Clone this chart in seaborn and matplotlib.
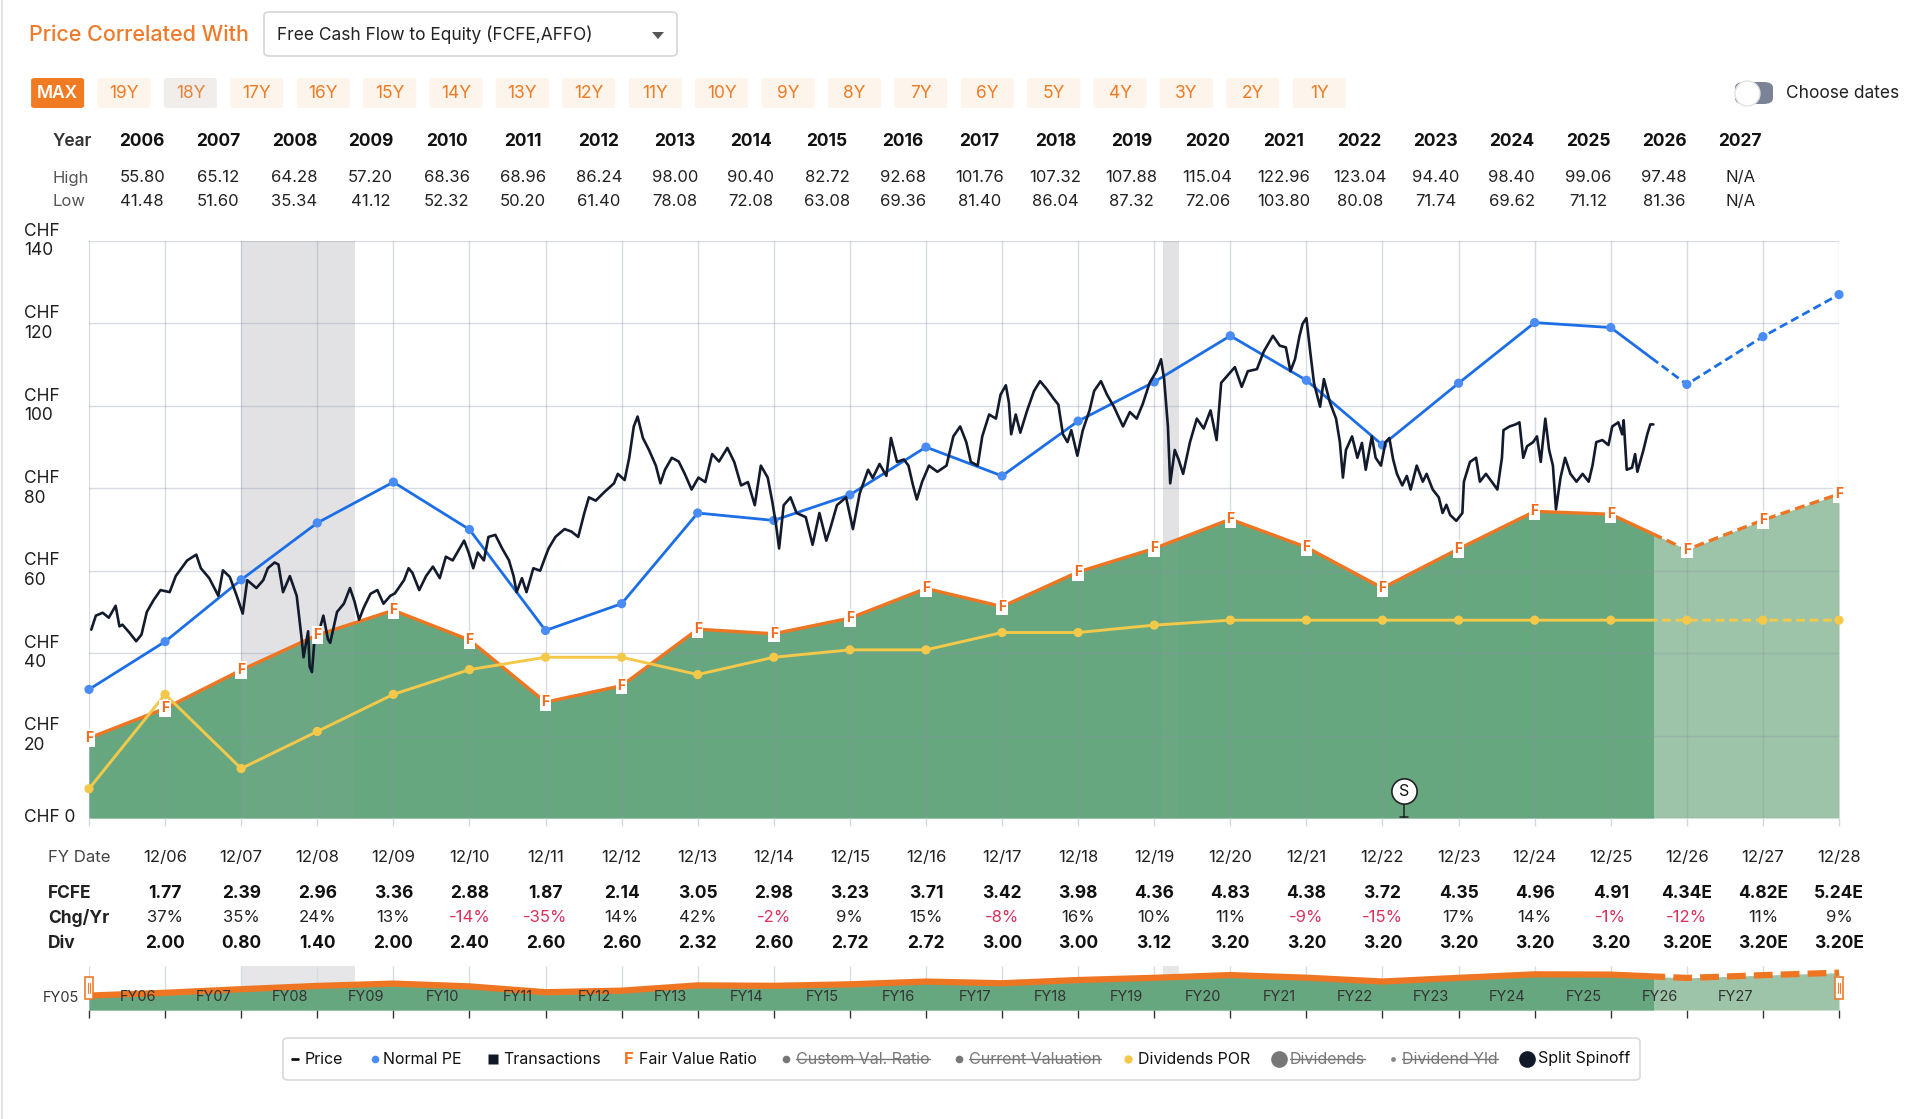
import numpy as np
import pandas as pd
import matplotlib
matplotlib.use("Agg")
import matplotlib.pyplot as plt
import seaborn as sns
import matplotlib.transforms as mtransforms
from matplotlib.patches import Rectangle, FancyBboxPatch, Polygon
from matplotlib.lines import Line2D

# ---------------- data ----------------
fy_end = list(range(2006, 2030))          # year-end positions of FY05 .. FY28
fair_value = [19.4, 26.6, 35.9, 44.4, 50.4, 43.2, 28.1, 32.1, 45.8, 44.7, 48.5, 55.7,
              51.3, 59.7, 65.4, 72.5, 65.7, 55.8, 65.3, 74.4, 73.7, 65.1, 72.3, 78.6]
normal_pe = [31.2, 42.8, 57.8, 71.6, 81.5, 70.0, 45.5, 52.0, 74.0, 72.2, 78.4, 90.0,
             83.0, 96.3, 105.8, 117.0, 106.2, 90.5, 105.5, 120.2, 119.0, 105.2, 116.8, 127.0]
div_por = [7.1, 30.0, 12.0, 21.0, 30.0, 36.0, 39.0, 39.0, 34.8, 39.0, 40.8, 40.8,
           45.0, 45.0, 46.8, 48.0, 48.0, 48.0, 48.0, 48.0, 48.0, 48.0, 48.0, 48.0]
now_date = 2026.56

price_t = [0.03, 0.09, 0.18, 0.26, 0.35, 0.40, 0.44, 0.53, 0.62, 0.69,
           0.76, 0.85, 0.94, 1.06, 1.14, 1.29, 1.41, 1.47, 1.58, 1.70,
           1.76, 1.85, 1.94, 2.02, 2.08, 2.20, 2.29, 2.35, 2.44, 2.49,
           2.55, 2.64, 2.73, 2.79, 2.82, 2.88, 2.90, 2.93, 2.96, 3.02,
           3.08, 3.14, 3.17, 3.26, 3.35, 3.43, 3.49, 3.55, 3.61, 3.70,
           3.79, 3.87, 3.96, 4.02, 4.14, 4.20, 4.25, 4.34, 4.43, 4.52,
           4.61, 4.69, 4.78, 4.87, 4.93, 4.99, 5.05, 5.11, 5.19, 5.25,
           5.34, 5.43, 5.52, 5.58, 5.62, 5.69, 5.75, 5.84, 5.93, 5.99,
           6.04, 6.13, 6.25, 6.34, 6.43, 6.51, 6.57, 6.66, 6.78, 6.90,
           6.95, 7.04, 7.10, 7.16, 7.21, 7.28, 7.36, 7.45, 7.51, 7.57,
           7.66, 7.75, 7.83, 7.92, 8.01, 8.10, 8.19, 8.28, 8.39, 8.48,
           8.57, 8.66, 8.75, 8.83, 8.92, 8.98, 9.03, 9.07, 9.13, 9.22,
           9.30, 9.42, 9.51, 9.60, 9.69, 9.74, 9.83, 9.95, 10.04, 10.13,
           10.24, 10.30, 10.39, 10.48, 10.54, 10.62, 10.71, 10.77, 10.83, 10.88,
           10.95, 11.04, 11.15, 11.27, 11.36, 11.45, 11.53, 11.59, 11.68, 11.74,
           11.83, 11.92, 11.98, 12.05, 12.09, 12.12, 12.18, 12.24, 12.33, 12.42,
           12.50, 12.59, 12.68, 12.74, 12.80, 12.86, 12.91, 12.99, 13.06, 13.15,
           13.21, 13.30, 13.38, 13.47, 13.59, 13.68, 13.77, 13.85, 13.94, 14.03,
           14.09, 14.13, 14.18, 14.21, 14.27, 14.32, 14.38, 14.47, 14.56, 14.65,
           14.74, 14.82, 14.88, 14.97, 15.06, 15.15, 15.23, 15.35, 15.44, 15.56,
           15.65, 15.73, 15.79, 15.85, 15.91, 15.95, 16.00, 16.05, 16.10, 16.18,
           16.23, 16.31, 16.39, 16.44, 16.48, 16.52, 16.60, 16.67, 16.73, 16.78,
           16.86, 16.91, 16.98, 17.04, 17.09, 17.14, 17.19, 17.26, 17.32, 17.37,
           17.45, 17.53, 17.58, 17.66, 17.74, 17.79, 17.84, 17.89, 17.97, 18.05,
           18.07, 18.15, 18.23, 18.28, 18.36, 18.44, 18.51, 18.57, 18.59, 18.67,
           18.75, 18.80, 18.85, 18.90, 18.98, 19.03, 19.08, 19.14, 19.19, 19.24,
           19.28, 19.34, 19.40, 19.47, 19.55, 19.63, 19.71, 19.76, 19.81, 19.89,
           19.97, 20.02, 20.10, 20.15, 20.17, 20.21, 20.28, 20.32, 20.35, 20.43,
           20.48, 20.52, 20.56]
price_v = [45.7, 49.1, 49.8, 48.6, 51.5, 46.5, 46.9, 45.0, 42.9, 44.5,
           50.0, 52.9, 55.3, 54.8, 58.7, 62.5, 63.9, 60.6, 58.2, 53.9,
           60.1, 58.5, 54.0, 49.6, 57.7, 55.8, 57.7, 60.6, 62.0, 61.5,
           54.8, 58.7, 53.9, 44.3, 39.0, 45.3, 36.7, 35.4, 42.4, 45.0,
           49.1, 43.4, 42.5, 50.0, 52.0, 55.8, 52.5, 48.1, 51.0, 54.4,
           55.3, 52.0, 53.9, 54.5, 57.7, 60.6, 59.5, 55.3, 58.7, 61.0,
           58.2, 63.4, 62.5, 65.4, 67.3, 64.4, 60.6, 64.4, 62.5, 68.2,
           68.7, 65.4, 62.5, 58.7, 54.8, 58.2, 54.8, 60.6, 60.0, 63.0,
           65.4, 68.2, 70.1, 69.5, 68.2, 74.0, 77.8, 77.0, 79.2, 81.2,
           83.5, 82.0, 87.4, 95.0, 97.4, 92.2, 89.3, 85.5, 81.2, 84.5,
           87.4, 86.5, 83.5, 79.7, 82.6, 81.5, 88.3, 86.5, 89.8, 86.4,
           80.7, 81.5, 75.9, 85.5, 82.6, 76.8, 71.1, 65.4, 75.9, 77.8,
           74.0, 73.0, 66.3, 74.0, 67.3, 70.1, 75.9, 77.8, 70.1, 78.8,
           84.5, 82.5, 85.9, 83.0, 92.2, 86.4, 87.0, 85.5, 80.7, 77.3,
           81.6, 85.5, 84.0, 85.5, 92.6, 95.0, 91.2, 86.4, 85.5, 92.6,
           97.9, 96.9, 102.7, 105.0, 100.8, 93.1, 97.9, 93.5, 98.9, 103.6,
           106.0, 104.0, 101.7, 100.3, 93.1, 91.2, 94.1, 87.9, 94.0, 98.9,
           103.6, 106.0, 102.7, 99.8, 95.0, 98.5, 96.9, 100.5, 105.6, 108.4,
           111.3, 106.5, 95.0, 81.2, 89.3, 87.0, 83.5, 91.2, 96.9, 94.5,
           98.9, 91.7, 105.6, 107.5, 109.4, 104.6, 108.4, 108.9, 113.2, 117.0,
           114.6, 114.2, 108.4, 111.3, 117.0, 119.9, 121.3, 113.2, 105.5, 99.8,
           106.5, 100.8, 96.9, 91.2, 82.6, 89.3, 92.6, 87.4, 91.0, 84.5,
           92.6, 87.4, 85.5, 91.2, 92.2, 87.0, 83.5, 80.7, 83.0, 79.7,
           85.5, 81.6, 83.5, 79.7, 77.8, 74.0, 76.0, 73.5, 72.1, 74.0,
           81.6, 86.4, 87.4, 81.6, 83.5, 81.5, 79.7, 87.4, 94.1, 95.0,
           95.5, 96.0, 87.4, 90.2, 91.2, 92.6, 86.4, 96.9, 89.3, 85.5,
           74.9, 82.6, 87.4, 83.5, 81.6, 83.5, 81.6, 85.5, 91.2, 91.7,
           90.5, 95.0, 96.0, 93.1, 96.5, 84.5, 85.0, 88.3, 84.0, 89.3,
           93.1, 95.5, 95.5]

recessions = [(2008.0, 2009.49), (2020.12, 2020.33)]
split_x = [2023.28]
split_y = [6.5]

year_cols = [str(y) for y in range(2006, 2028)]
year_high = ["55.80", "65.12", "64.28", "57.20", "68.36", "68.96", "86.24", "98.00", "90.40",
             "82.72", "92.68", "101.76", "107.32", "107.88", "115.04", "122.96", "123.04",
             "94.40", "98.40", "99.06", "97.48", "N/A"]
year_low = ["41.48", "51.60", "35.34", "41.12", "52.32", "50.20", "61.40", "78.08", "72.08",
            "63.08", "69.36", "81.40", "86.04", "87.32", "72.06", "103.80", "80.08", "71.74",
            "69.62", "71.12", "81.36", "N/A"]

fy_dates = ["12/%02d" % y for y in range(6, 29)]
fcfe_txt = ["1.77", "2.39", "2.96", "3.36", "2.88", "1.87", "2.14", "3.05", "2.98", "3.23",
            "3.71", "3.42", "3.98", "4.36", "4.83", "4.38", "3.72", "4.35", "4.96", "4.91",
            "4.34E", "4.82E", "5.24E"]
chg_txt = ["37%", "35%", "24%", "13%", "-14%", "-35%", "14%", "42%", "-2%", "9%", "15%",
           "-8%", "16%", "10%", "11%", "-9%", "-15%", "17%", "14%", "-1%", "-12%", "11%", "9%"]
div_txt = ["2.00", "0.80", "1.40", "2.00", "2.40", "2.60", "2.60", "2.32", "2.60", "2.72",
           "2.72", "3.00", "3.00", "3.12", "3.20", "3.20", "3.20", "3.20", "3.20", "3.20",
           "3.20E", "3.20E", "3.20E"]
nav_labels = ["FY%02d" % y for y in range(6, 28)]
btn_labels = ["MAX", "19Y", "18Y", "17Y", "16Y", "15Y", "14Y", "13Y", "12Y", "11Y",
              "10Y", "9Y", "8Y", "7Y", "6Y", "5Y", "4Y", "3Y", "2Y", "1Y"]

# ---------------- style ----------------
sns.set_theme(style="white")
plt.rcParams["font.family"] = ["Inter", "DejaVu Sans"]

W, H = 1920, 1119
fig = plt.figure(figsize=(19.2, 11.19), dpi=100)
fig.patch.set_facecolor("white")


def fx(x):
    return x / W


def fy(y):
    return 1 - y / H


ORANGE = "#EE7623"
BLUE = "#1C6EE6"
BLUE_M = "#4A8CF6"
YELLOW = "#F4C94A"
DARK_G = "#67A780"
LIGHT_G = "#9DC4A8"
PRICE_C = "#121A2C"
TXT = "#1F1F1F"

fy_x = np.array(fy_end, dtype=float)

# ---------------- main chart ----------------
ax = fig.add_axes([fx(89), fy(818), fx(1839) - fx(89), fy(241) - fy(818)])
ax.set_xlim(2006, 2029)
ax.set_ylim(0, 140)
for s in ax.spines.values():
    s.set_visible(False)
ax.set_xticks(range(2006, 2030))
ax.set_yticks(range(0, 141, 20))
ax.set_xticklabels([])
ax.set_yticklabels([])
ax.tick_params(axis="x", length=6, color="#d3d7de", width=1, direction="out", bottom=True)
ax.tick_params(axis="y", length=0)
ax.set_axisbelow(False)
ax.grid(True, color="#8a94a6", alpha=0.33, lw=1)

for a, b in recessions:
    ax.axvspan(a, b, color="#e7e7ea", lw=0, zorder=0.5)
    ax.axvspan(a, b, color="#a9a9ad", alpha=0.07, lw=0, zorder=1.5)

past = Rectangle((1990, -100), now_date - 1990, 400, transform=ax.transData)
future = Rectangle((now_date, -100), 50, 400, transform=ax.transData)

ax.fill_between(fy_x, 0, fair_value, color=LIGHT_G, lw=0, zorder=1)
dark = ax.fill_between(fy_x, 0, fair_value, color=DARK_G, lw=0, zorder=1.1)
dark.set_clip_path(past)


def seg_line(axis, y, color, lw, z, clip_past, clip_future, dash):
    sns.lineplot(x=fy_x, y=y, ax=axis, color=color, lw=lw, zorder=z,
                 estimator=None, legend=False)
    axis.lines[-1].set_clip_path(clip_past)
    sns.lineplot(x=fy_x, y=y, ax=axis, color=color, lw=lw, zorder=z,
                 estimator=None, legend=False, linestyle=(0, dash))
    axis.lines[-1].set_clip_path(clip_future)


seg_line(ax, fair_value, ORANGE, 2.4, 3, past, future, (3, 1.6))
seg_line(ax, div_por, YELLOW, 2.1, 4, past, future, (3, 1.6))
seg_line(ax, normal_pe, BLUE, 2.0, 5, past, future, (3, 1.6))

sns.scatterplot(x=fy_x, y=div_por, ax=ax, color=YELLOW, s=44, edgecolor="none",
                zorder=4.5, legend=False, clip_on=False)
sns.scatterplot(x=fy_x, y=normal_pe, ax=ax, color=BLUE_M, s=44, edgecolor="none",
                zorder=5.5, legend=False, clip_on=False)

sns.lineplot(x=2006 + np.array(price_t), y=price_v, ax=ax, color=PRICE_C, lw=1.9,
             zorder=7, estimator=None, legend=False)

for xv, yv in zip(fy_x, fair_value):
    ax.text(xv, yv, "F", ha="center", va="center", fontsize=10, color="#F26B1D",
            weight="bold", zorder=8, clip_on=False,
            bbox=dict(boxstyle="square,pad=0.12", fc="white", ec="none"))

# split / spinoff marker
for sx, sy in zip(split_x, split_y):
    ax.plot([sx, sx], [0, sy - 3.2], color="#222", lw=1.1, zorder=8)
    ax.plot([sx - 0.05, sx + 0.05], [0.3, 0.3], color="#222", lw=1.1, zorder=8)
sns.scatterplot(x=split_x, y=split_y, ax=ax, s=330, color="white", edgecolor="#222",
                linewidth=1.2, zorder=9, legend=False)
for sx, sy in zip(split_x, split_y):
    ax.text(sx, sy, "S", ha="center", va="center", fontsize=11.5, color="#111", zorder=10)

# y labels
ytr = mtransforms.blended_transform_factory(fig.transFigure, ax.transData)
for v in range(20, 141, 20):
    fig.text(fx(24), v, "CHF\n%d" % v, transform=ytr, ha="left", va="center",
             fontsize=12.5, color=TXT, linespacing=1.2)
fig.text(fx(24), 0, "CHF 0", transform=ytr, ha="left", va="center", fontsize=12.5, color=TXT)

# ---------------- top table ----------------
ttr = mtransforms.blended_transform_factory(ax.transData, fig.transFigure)
fig.text(fx(53), fy(142), "Year", ha="left", va="center", fontsize=12.5,
         weight="semibold", color="#333")
fig.text(fx(53), fy(178), "High", ha="left", va="center", fontsize=12, color="#555")
fig.text(fx(53), fy(202), "Low", ha="left", va="center", fontsize=12, color="#555")
for i, (yc, hi, lo) in enumerate(zip(year_cols, year_high, year_low)):
    xc = 2006.7 + i
    fig.text(xc, fy(142), yc, transform=ttr, ha="center", va="center", fontsize=12.5,
             weight="bold", color="#111")
    fig.text(xc, fy(178), hi, transform=ttr, ha="center", va="center", fontsize=12, color="#222")
    fig.text(xc, fy(202), lo, transform=ttr, ha="center", va="center", fontsize=12, color="#222")

# ---------------- bottom table ----------------
fig.text(fx(48), fy(858), "FY Date", ha="left", va="center", fontsize=12, color="#444")
fig.text(fx(48), fy(894), "FCFE", ha="left", va="center", fontsize=12.5, weight="bold", color="#222")
fig.text(fx(48), fy(918), "Chg/Yr", ha="left", va="center", fontsize=12.5, weight="bold", color="#222")
fig.text(fx(48), fy(943), "Div", ha="left", va="center", fontsize=12.5, weight="bold", color="#222")
for i, (d, f, c, dv) in enumerate(zip(fy_dates, fcfe_txt, chg_txt, div_txt)):
    xc = 2007 + i
    fig.text(xc, fy(858), d, transform=ttr, ha="center", va="center", fontsize=12, color="#222")
    fig.text(xc, fy(894), f, transform=ttr, ha="center", va="center", fontsize=12.5,
             weight="bold", color="#111")
    fig.text(xc, fy(918), c, transform=ttr, ha="center", va="center", fontsize=12,
             color="#DC2F5C" if c.startswith("-") else "#222")
    fig.text(xc, fy(943), dv, transform=ttr, ha="center", va="center", fontsize=12.5,
             weight="bold", color="#111")

# ---------------- navigator ----------------
nav = fig.add_axes([fx(89), fy(1010), fx(1839) - fx(89), fy(966) - fy(1010)])
nav.set_xlim(2006, 2029)
nav.set_ylim(-18, 96)
for s in nav.spines.values():
    s.set_visible(False)
nav.set_yticks([])
nav.set_xticks(range(2006, 2030))
nav.set_xticklabels([])
nav.tick_params(axis="x", length=6, color="#333", width=1, direction="out", bottom=True)
nav.vlines(range(2006, 2030), -18, 96, color="#d8dce2", lw=1, zorder=0.6)
for a, b in recessions:
    nav.axvspan(a, b, color="#e6e6e8", lw=0, zorder=0.5)
npast = Rectangle((1990, -100), now_date - 1990, 400, transform=nav.transData)
nfuture = Rectangle((now_date, -100), 50, 400, transform=nav.transData)
nav.fill_between(fy_x, -18, fair_value, color=LIGHT_G, lw=0, zorder=1)
nd = nav.fill_between(fy_x, -18, fair_value, color=DARK_G, lw=0, zorder=1.1)
nd.set_clip_path(npast)
seg_line(nav, fair_value, ORANGE, 4.5, 3, npast, nfuture, (3, 1.3))
for i, lab in enumerate(nav_labels):
    nav.text(2006.64 + i, 0.3, lab, transform=mtransforms.blended_transform_factory(
        nav.transData, nav.transAxes), ha="center", va="center", fontsize=10.5,
        color="#333", zorder=5)
fig.text(fx(61), fy(998), "FY05", ha="center", va="center", fontsize=10.5, color="#333")
for hx in (85, 1835):
    fig.add_artist(Rectangle((fx(hx), fy(999)), 8 / W, 22 / H, transform=fig.transFigure,
                             fc="white", ec="#EE7B2C", lw=1.2, zorder=10))
    for dx in (3, 5):
        fig.add_artist(Line2D([fx(hx + dx)] * 2, [fy(983), fy(993)], color="#EE7B2C",
                              lw=0.8, zorder=11))

# ---------------- legend box ----------------
fig.add_artist(FancyBboxPatch((fx(283), fy(1080)), (1640 - 283) / W, 42 / H,
                              boxstyle="round,pad=0,rounding_size=0.003",
                              transform=fig.transFigure, fc="white", ec="#d9d9d9", lw=1.2))
LY = fy(1059)
fig.add_artist(Line2D([fx(292), fx(298)], [LY, LY], color="#111", lw=2))
icons = [(375, "o", BLUE_M, 5.5), (493, "s", "#111827", 7.5), (786, "o", "#777", 5.5),
         (959, "o", "#777", 5.5), (1128, "o", YELLOW, 6), (1279, "o", "#777", 12),
         (1393, "o", "#888", 3.5), (1527, "o", "#111827", 12)]
for xi, mk, col, ms in icons:
    fig.add_artist(Line2D([fx(xi)], [LY], marker=mk, color=col, ms=ms, mec="none", lw=0))
fig.text(fx(629), LY, "F", ha="center", va="center", fontsize=12, weight="bold", color=ORANGE)
leg_items = [(305, "Price", False), (383, "Normal PE", False), (503, "Transactions", False),
             (639, "Fair Value Ratio", False), (796, "Custom Val. Ratio", True),
             (969, "Current Valuation", True), (1138, "Dividends POR", False),
             (1290, "Dividends", True), (1402, "Dividend Yld", True), (1538, "Split Spinoff", False)]
leg_texts = []
for xi, lab, strike in leg_items:
    t = fig.text(fx(xi), LY, lab, ha="left", va="center", fontsize=11.5,
                 color="#777" if strike else "#111")
    leg_texts.append((t, strike))

# ---------------- header UI ----------------
fig.text(fx(29), fy(35), "Price Correlated With", ha="left", va="center", fontsize=15.5,
         color="#EE7B2C", weight="medium")
fig.add_artist(FancyBboxPatch((fx(264), fy(56)), 413 / W, 44 / H,
                              boxstyle="round,pad=0,rounding_size=0.003",
                              transform=fig.transFigure, fc="white", ec="#d6d6d6", lw=1.2))
fig.text(fx(277), fy(35), "Free Cash Flow to Equity (FCFE,AFFO)", ha="left", va="center",
         fontsize=12.5, color="#222")
fig.add_artist(Polygon([[fx(652), fy(32)], [fx(664), fy(32)], [fx(658), fy(39)]],
                       closed=True, transform=fig.transFigure, fc="#555", ec="none"))
for i, lab in enumerate(btn_labels):
    cx = 57.6 + 66.4 * i
    if lab == "MAX":
        fc, tc, wt = "#F07B22", "white", "semibold"
    elif lab == "18Y":
        fc, tc, wt = "#F1EDEA", "#E8833A", "normal"
    else:
        fc, tc, wt = "#FDF4EC", "#F07B22", "normal"
    fig.add_artist(FancyBboxPatch((fx(cx - 26.5), fy(108)), 53 / W, 30 / H,
                                  boxstyle="round,pad=0,rounding_size=0.002",
                                  transform=fig.transFigure, fc=fc, ec="none"))
    fig.text(fx(cx), fy(93), lab, ha="center", va="center", fontsize=12.5, color=tc, weight=wt)

fig.add_artist(FancyBboxPatch((fx(1735), fy(104)), 38 / W, 22 / H,
                              boxstyle="round,pad=0,rounding_size=0.005",
                              transform=fig.transFigure, fc="#7B8497", ec="none"))
fig.add_artist(Line2D([fx(1747)], [fy(93)], marker="o", ms=18, mfc="white", mec="#e2e2e2",
                      mew=1, lw=0))
fig.text(fx(1786), fy(93), "Choose dates", ha="left", va="center", fontsize=12.5, color="#222")

fig.add_artist(Line2D([fx(1.5)] * 2, [0, 1], color="#e3e3e3", lw=1.5))

# strike-through lines for disabled legend entries
fig.canvas.draw()
rend = fig.canvas.get_renderer()
for t, strike in leg_texts:
    if strike:
        bb = t.get_window_extent(rend)
        ym = (bb.y0 + bb.y1) / 2 / H
        fig.add_artist(Line2D([bb.x0 / W, bb.x1 / W], [ym, ym], color="#777", lw=1))

fig.savefig("out.png", dpi=100, facecolor="white")
